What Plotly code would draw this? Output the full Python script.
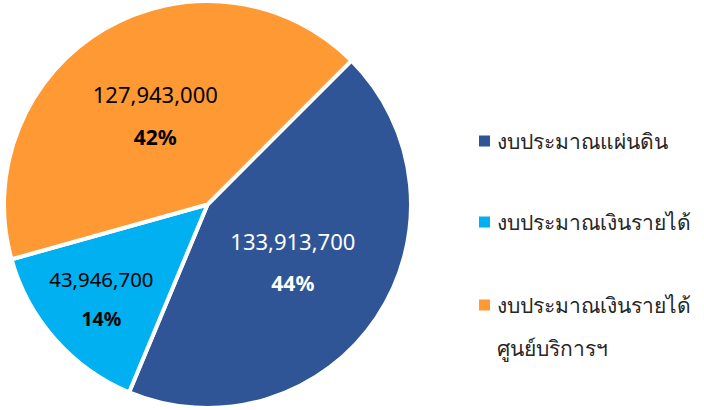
import plotly.graph_objects as go

labels = ["งบประมาณแผ่นดิน", "งบประมาณเงินรายได้", "งบประมาณเงินรายได้ ศูนย์บริการฯ"]
legend_lines = [["งบประมาณแผ่นดิน"], ["งบประมาณเงินรายได้"], ["งบประมาณเงินรายได้", "ศูนย์บริการฯ"]]
values = [133913700, 43946700, 127943000]
colors = ["#2F5597", "#00B0F0", "#FF9933"]
text_colors = ["white", "black", "black"]

fig = go.Figure()
fig.add_trace(go.Pie(
    labels=labels,
    values=values,
    sort=False,
    direction="clockwise",
    rotation=45,
    marker=dict(colors=colors, line=dict(color="white", width=4)),
    texttemplate="<span style='font-size:22px'>%{value:,}</span><br>"
                 "<span style='font-size:21px'><b>%{percent:.0%}</b></span>",
    textposition="inside",
    insidetextorientation="horizontal",
    insidetextfont=dict(color=text_colors, size=32, family="Noto Sans"),
    showlegend=False,
    domain=dict(x=[4/704, 411/704], y=[1/410, 1]),
    hoverinfo="label+value+percent",
))

# Manual legend (square + text)
legend_y = [141, 222, 305]
for lines, col, y in zip(legend_lines, colors, legend_y):
    fig.add_shape(type="rect", xref="paper", yref="paper",
                  x0=479/704, x1=490/704, y0=1-(y+5.5)/410, y1=1-(y-5.5)/410,
                  fillcolor=col, line=dict(width=0))
    for i, line in enumerate(lines):
        fig.add_annotation(xref="paper", yref="paper", x=495/704, y=1-(y + i*43)/410,
                           text=line, showarrow=False, xanchor="left", yanchor="middle",
                           align="left", font=dict(size=21, color="#262626", family="Noto Sans"))

fig.update_layout(
    width=704, height=410,
    margin=dict(l=0, r=0, t=0, b=0),
    paper_bgcolor="white", plot_bgcolor="white",
)
fig.write_html("out.html", config={"displayModeBar": False},
               post_script="document.body.style.margin='0';")
